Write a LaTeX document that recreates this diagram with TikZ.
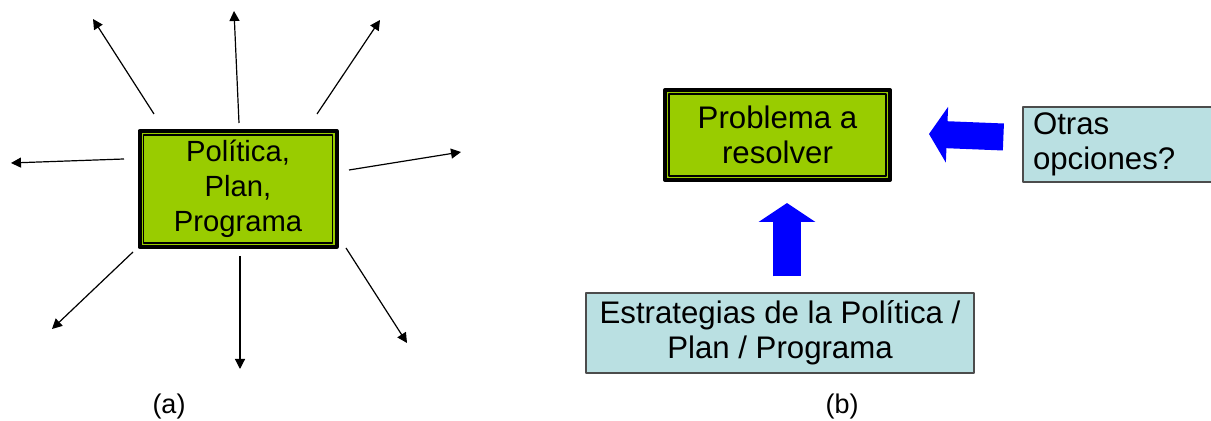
\documentclass[tikz,border=0pt]{standalone}
\usepackage{fontspec}
\setmainfont{Liberation Sans}
\usetikzlibrary{arrows.meta}
\definecolor{polgreen}{RGB}{153,204,0}
\definecolor{estblue}{RGB}{186,224,226}
\begin{document}
\begin{tikzpicture}[x=0.5pt,y=-0.5pt,line join=round,>={Triangle[length=5pt,width=5pt]},
	greenbox/.style={draw=black,line width=2pt,fill=polgreen,align=center,inner sep=0pt,font=\fontsize{15.6}{17.5}\selectfont},
	bluebox/.style={draw=black!70,line width=0.6pt,fill=estblue,inner sep=0pt,font=\fontsize{15.6}{17.5}\selectfont},
	blockarrow/.style={draw=blue,line width=14pt,-{Triangle[length=9.5pt,width=28pt]}},
	lbl/.style={font=\fontsize{13.5}{16}\selectfont}]
	\useasboundingbox (0,0) rectangle (1211,421);
	\node[greenbox,minimum width=98.5pt,minimum height=58pt,font=\fontsize{14.6}{17.5}\selectfont] (pol) at (238,189) {Política,\\Plan,\\Programa};
	\draw[line width=0.6pt] ([shift={(3pt,-3pt)}]pol.north west) rectangle ([shift={(-3pt,3pt)}]pol.south east);
	\foreach \i/\sx/\sy/\ex/\ey in {1/154/114/93/19,2/239/123/234/11,3/317/114/380/20,4/124/159/11/163,5/349/170/461/152,6/133/252/52/329,7/240/256/240/369,8/346/248/407/343}{
		\coordinate (s\i) at (\sx,\sy); \coordinate (e\i) at (\ex,\ey);
		\draw[->,line width=0.6pt] (s\i)--(e\i);}
	\node[lbl] (la) at (169,407) {(a)};
	\node[greenbox,minimum width=112.5pt,minimum height=45pt] (prob) at (777.5,135) {Problema a\\resolver};
	\draw[line width=0.6pt] ([shift={(3pt,-3pt)}]prob.north west) rectangle ([shift={(-3pt,3pt)}]prob.south east);
	\node[bluebox,minimum width=105pt,minimum height=37.5pt,text width=95pt,inner xsep=5pt,align=left] (oth) at (1128,144.5) {Otras\\opciones?};
	\node[bluebox,minimum width=194pt,minimum height=40pt,align=center] (estr) at (780,333) {Estrategias de la Política /\\Plan / Programa};
	\draw[blockarrow] ([shift={(3.5pt,8pt)}]estr.north)--([shift={(4.75pt,-10.5pt)}]prob.south);
	\draw[blockarrow,line width=13.5pt,-{Triangle[length=9pt,width=27.5pt]}] ([shift={(-9.5pt,3.75pt)}]oth.west)--([shift={(18.5pt,0.5pt)}]prob.east);
	\node[lbl] (lb) at (842,407) {(b)};
\end{tikzpicture}
\end{document}
